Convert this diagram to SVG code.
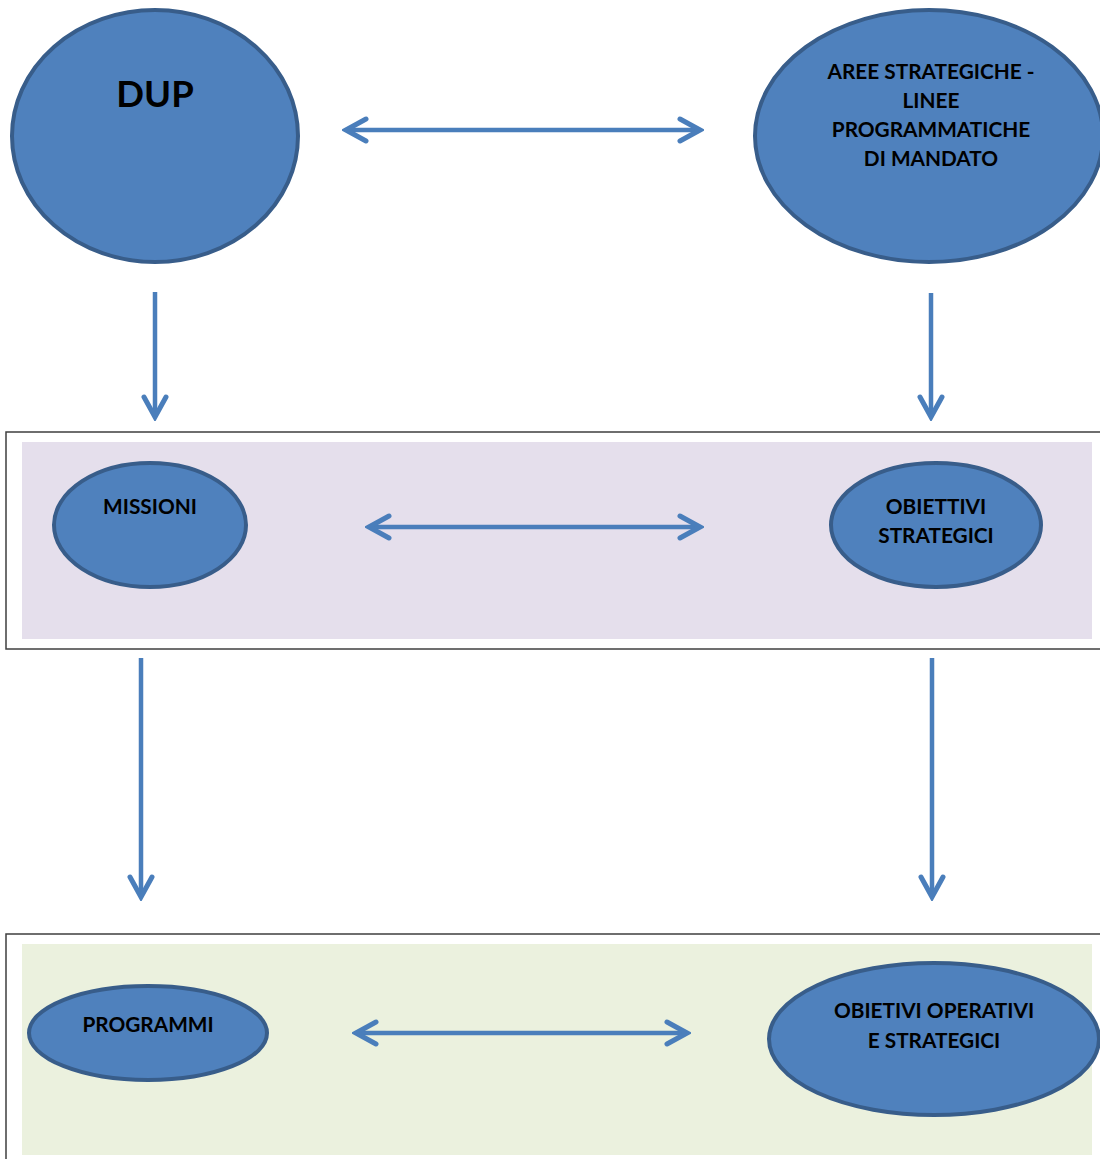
<svg xmlns="http://www.w3.org/2000/svg" width="1100" height="1159" viewBox="0 0 1100 1159">
<defs>
<style>
.node ellipse{fill:#4F81BD;stroke:#385D8A;stroke-width:4}
.lbl{font-family:Lato,"Open Sans","Liberation Sans",sans-serif;font-weight:bold;fill:#000;text-anchor:middle;font-size:20.8px}
.conn line{stroke:#4A7EBB;stroke-width:4.5;fill:none}
.frame{fill:none;stroke:#3F3F3F;stroke-width:1.5}
</style>
<marker id="ah" markerUnits="userSpaceOnUse" viewBox="-26 -15 30 30" markerWidth="30" markerHeight="30" refX="0" refY="0" orient="auto-start-reverse">
<path d="M-20,-11 L0,0 L-20,11" fill="none" stroke="#4A7EBB" stroke-width="5" stroke-linecap="round" stroke-linejoin="miter"/>
</marker>
</defs>
<rect width="1100" height="1159" fill="#fff"/>
<g id="panel1">
<rect class="frame" x="6" y="432" width="1100" height="217"/>
<rect x="22" y="442" width="1070" height="197" fill="#E5DFEC"/>
</g>
<g id="panel2">
<rect class="frame" x="6" y="934" width="1100" height="240"/>
<rect x="22" y="944" width="1070" height="211" fill="#EBF1DE"/>
</g>
<g class="conn" id="connectors">
<line x1="346" y1="130" x2="700" y2="130" marker-start="url(#ah)" marker-end="url(#ah)"/>
<line x1="155" y1="292" x2="155" y2="417" marker-end="url(#ah)"/>
<line x1="931" y1="293" x2="931" y2="417" marker-end="url(#ah)"/>
<line x1="369" y1="527" x2="700" y2="527" marker-start="url(#ah)" marker-end="url(#ah)"/>
<line x1="141" y1="658" x2="141" y2="897" marker-end="url(#ah)"/>
<line x1="932" y1="658" x2="932" y2="897" marker-end="url(#ah)"/>
<line x1="356" y1="1033" x2="687" y2="1033" marker-start="url(#ah)" marker-end="url(#ah)"/>
</g>
<g class="node" id="dup">
<ellipse cx="155" cy="136" rx="143" ry="126"/>
<text class="lbl" x="155" y="107" style="font-size:36.5px">DUP</text>
</g>
<g class="node" id="aree">
<ellipse cx="929" cy="136" rx="174" ry="126"/>
<text class="lbl" x="931" y="79">AREE STRATEGICHE -</text>
<text class="lbl" x="931" y="108">LINEE</text>
<text class="lbl" x="931" y="137">PROGRAMMATICHE</text>
<text class="lbl" x="931" y="166">DI MANDATO</text>
</g>
<g class="node" id="missioni">
<ellipse cx="150" cy="525" rx="96" ry="62"/>
<text class="lbl" x="150" y="514">MISSIONI</text>
</g>
<g class="node" id="obiettivi">
<ellipse cx="936" cy="525" rx="105" ry="62"/>
<text class="lbl" x="936" y="514">OBIETTIVI</text>
<text class="lbl" x="936" y="543">STRATEGICI</text>
</g>
<g class="node" id="programmi">
<ellipse cx="148" cy="1033" rx="119" ry="47"/>
<text class="lbl" x="148" y="1032">PROGRAMMI</text>
</g>
<g class="node" id="operativi">
<ellipse cx="934" cy="1039" rx="165" ry="76"/>
<text class="lbl" x="934" y="1018">OBIETIVI OPERATIVI</text>
<text class="lbl" x="934" y="1048">E STRATEGICI</text>
</g>
</svg>
